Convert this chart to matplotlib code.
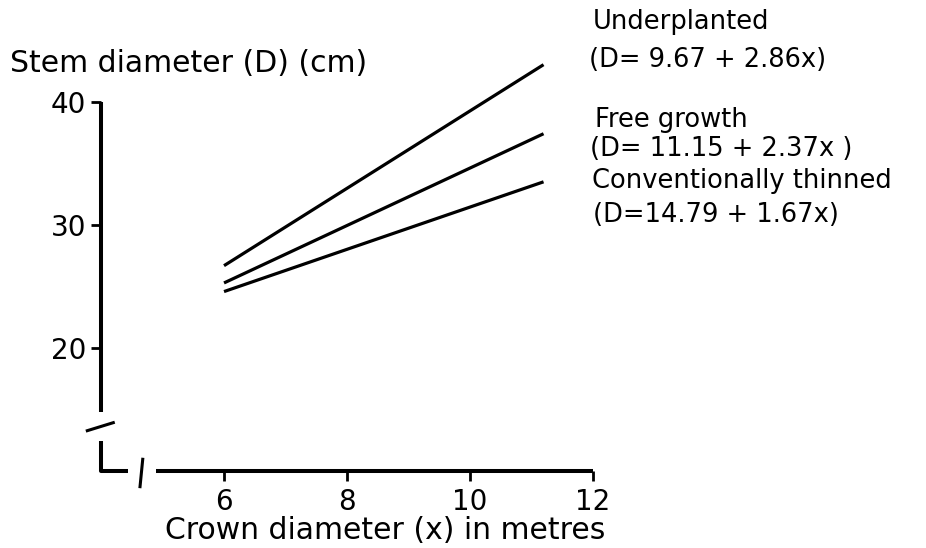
import matplotlib
matplotlib.use("Agg")
import matplotlib.pyplot as plt

# ---- data ----
x_ends = [6.0, 11.2]
underplanted = [26.7, 43.0]
free_growth = [25.3, 37.4]
conv_thinned = [24.6, 33.5]

series_names = ["Underplanted", "Free growth", "Conventionally thinned"]
equations = ["(D= 9.67 + 2.86x)", "(D= 11.15 + 2.37x )", "(D=14.79 + 1.67x)"]

x_ticks = [6, 8, 10, 12]
y_ticks = [20, 30, 40]
x_label = "Crown diameter (x) in metres"
y_label = "Stem diameter (D) (cm)"

plt.rcParams['font.family'] = ['DejaVu Sans']

W, H = 926, 548
fig = plt.figure(figsize=(W / 100, H / 100), dpi=100)
ax = fig.add_axes([100.7 / W, 1 - 471 / H, (600 - 100.7) / W, (471 - 50) / H])
ax.set_xlim(3.993, 12.119)
ax.set_ylim(10.05, 44.19)

lw_line = 2.3
for ys in (underplanted, free_growth, conv_thinned):
    ax.plot(x_ends, ys, color='black', lw=lw_line, solid_capstyle='butt')

# spines
for s in ('top', 'right'):
    ax.spines[s].set_visible(False)
spine_lw = 2.9
ax.spines['left'].set_linewidth(spine_lw)
ax.spines['bottom'].set_linewidth(spine_lw)
ax.spines['left'].set_bounds(14.86, 40)
ax.spines['bottom'].set_bounds(4.893, 12)
ax.spines['left'].set_capstyle('butt')
ax.spines['bottom'].set_capstyle('butt')

ax.set_xticks(x_ticks)
ax.set_yticks(y_ticks)
ax.tick_params(axis='both', length=7.5, width=2.0, color='black', labelsize=20)
ax.tick_params(axis='y', pad=3)
ax.tick_params(axis='x', pad=5)

# axis-break decorations
deco = dict(color='black', lw=spine_lw, clip_on=False, solid_capstyle='butt')
ax.plot([3.993, 3.993, 4.442], [12.46, 10.05, 10.05], **deco)
ax.plot([3.775, 4.198], [13.32, 13.97], color='black', lw=2.2, clip_on=False)
ax.plot([4.633, 4.677], [8.78, 11.0], color='black', lw=2.2, clip_on=False)

# axis labels
fig.text(10 / W, 1 - 72 / H, y_label, fontsize=21.5, ha='left', va='baseline')
fig.text(385 / W, 1 - 539 / H, x_label, fontsize=21.5, ha='center', va='baseline')

# annotations
ann = [
    (593, 29, series_names[0]),
    (589, 66.7, equations[0]),
    (595, 126.7, series_names[1]),
    (590, 156, equations[1]),
    (592, 188.3, series_names[2]),
    (593, 221.7, equations[2]),
]
for px, py, t in ann:
    fig.text(px / W, 1 - py / H, t, fontsize=18.5, ha='left', va='baseline')

fig.savefig("out.png", dpi=100)
